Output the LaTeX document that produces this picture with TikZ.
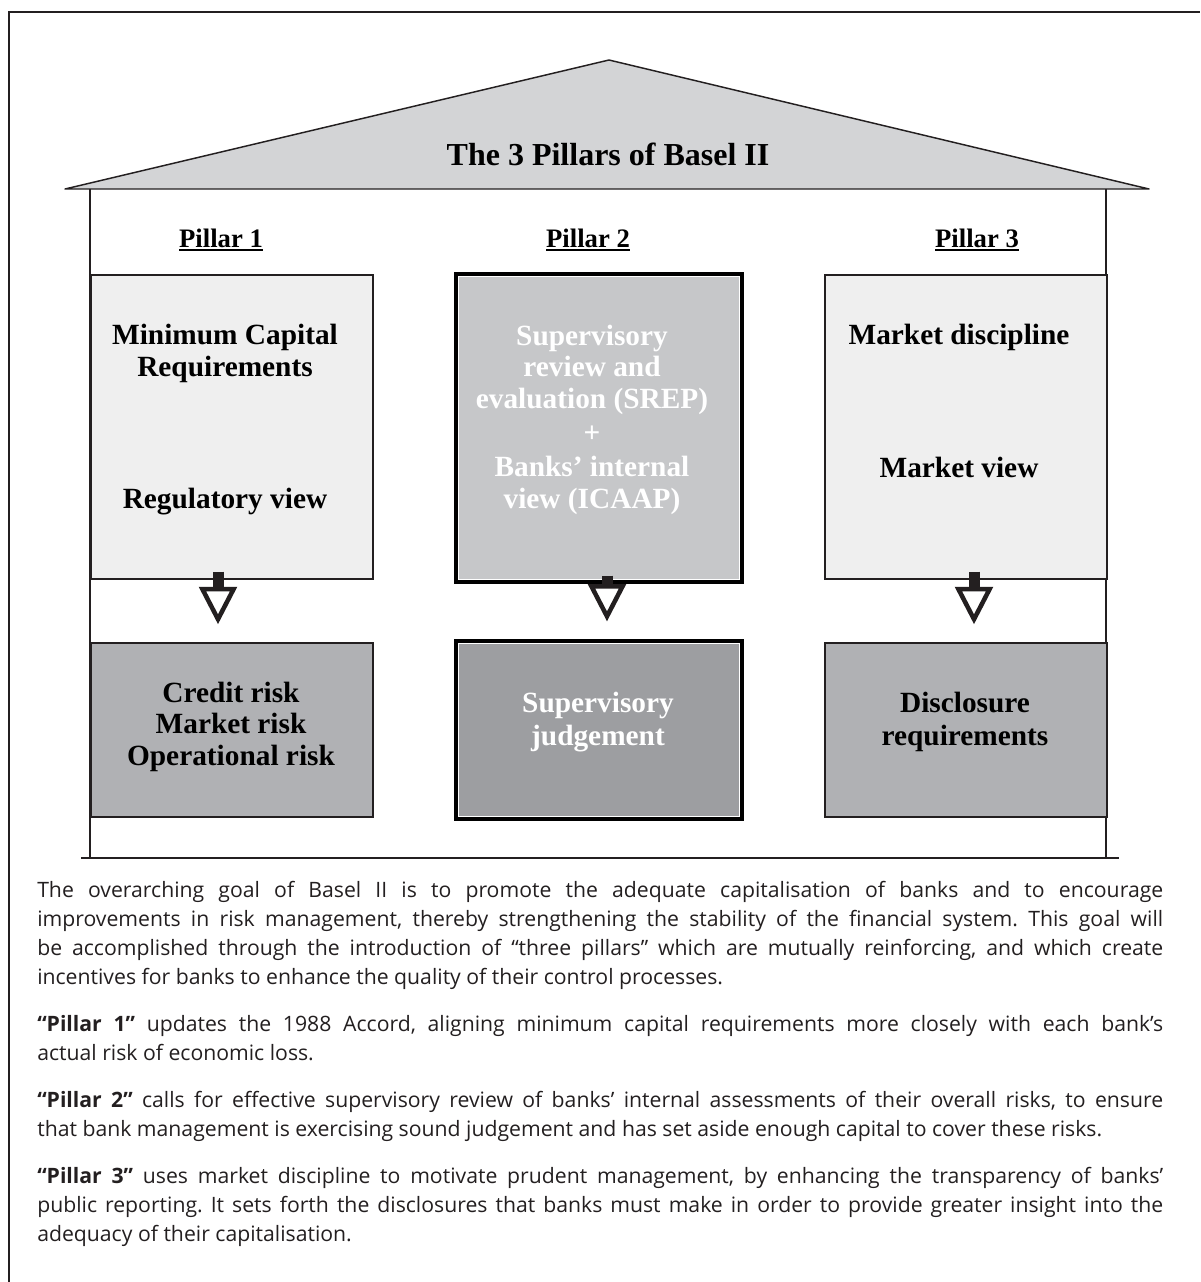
\documentclass[tikz,border=0pt]{standalone}
\usepackage{fontspec}
\setmainfont{Liberation Serif}
\newfontfamily\bodyfont{Open Sans}
\usetikzlibrary{arrows.meta}

\definecolor{roofgray}{HTML}{D3D4D6}
\definecolor{palepillar}{HTML}{EFEFEF}
\definecolor{midpillar}{HTML}{C6C7C9}
\definecolor{riskgray}{HTML}{B0B1B4}
\definecolor{judgegray}{HTML}{9D9EA1}
\definecolor{inkgray}{HTML}{231F20}

\newcommand{\thickul}[1]{\vtop{\hbox{#1}\kern1pt\hrule height 2pt}}

\tikzset{
  pillarbox/.style={draw=inkgray, line width=1.1pt, inner sep=0pt, minimum width=211.5pt, minimum height=228pt},
  basebox/.style={pillarbox, minimum height=130.5pt},
  centrebox/.style={draw=black, line width=2.4pt, minimum width=214.5pt},
  innerline/.style={draw=white, line width=0.7pt, inner sep=0pt},
  boxtext/.style={font=\bfseries\fontsize{22}{23.6}\selectfont, align=center, inner sep=0pt, anchor=base},
  headtext/.style={font=\bfseries\fontsize{20}{24}\selectfont, inner sep=0pt, anchor=base},
  pillararrow/.style={draw=inkgray, line width=8.25pt, shorten <=-6pt, shorten >=13.5pt, -{Triangle[open, length=28pt, width=28pt, line width=3.4pt]}},
  bodytext/.style={font=\bodyfont\fontsize{15.9}{21.75}\selectfont, text=inkgray, text width=844.5pt, align=justify, inner sep=0pt, anchor=north west}
}

\begin{document}
\begin{tikzpicture}[x=0.75pt,y=0.75pt,yscale=-1,xscale=1]
\useasboundingbox (0,0) rectangle (1200,1282);

%Outer frame
\draw [draw=inkgray, line width=0.9pt] (9,1282) -- (9,12) -- (1200,12) ;
%Roof
\draw [draw=inkgray, fill=roofgray, line width=1.1pt, line join=round] (65,189) -- (609,60) -- (1149,189) -- cycle ;
%Walls
\draw [draw=inkgray, line width=1.1pt] (90,189) -- (90,858) ;
\draw [draw=inkgray, line width=1.1pt] (1106,189) -- (1106,858) ;
%Floor
\draw [draw=inkgray, line width=1.6pt] (81,858) -- (1119,858) ;

% Text Node
\node [headtext, font=\bfseries\fontsize{24}{28}\selectfont] (roof) at (608,165) {The 3 Pillars of Basel II};
% Pillar heads
\node [headtext] (head1) at (221,247) {\thickul{Pillar 1}};
\node [headtext] (head2) at (588,247) {\thickul{Pillar 2}};
\node [headtext] (head3) at (977,247) {\thickul{Pillar 3}};

%Upper boxes
\node [pillarbox, fill=palepillar] (reg) at (232,427) {};
\node [pillarbox, centrebox, fill=midpillar, minimum height=231pt] (srep) at (599,428) {};
\node [innerline, minimum width=211.3pt, minimum height=227.8pt] (srepedge) at (srep.center) {};
\node [pillarbox, fill=palepillar] (mkt) at (966,427) {};
%Lower boxes
\node [basebox, fill=riskgray] (risk) at (232,730) {};
\node [basebox, centrebox, fill=judgegray, minimum height=133.5pt] (judge) at (599,730) {};
\node [innerline, minimum width=211.3pt, minimum height=130.3pt] (judgeedge) at (judge.center) {};
\node [basebox, fill=riskgray] (disc) at (966,730) {};

%Arrows
\draw [pillararrow] ([xshift=-10.5pt]reg.south) -- ([xshift=-10.5pt]risk.north) ;
\draw [pillararrow] ([xshift=6pt]srep.south) -- ([xshift=6pt]judge.north) ;
\draw [pillararrow] ([xshift=6pt]mkt.south) -- ([xshift=6pt]disc.north) ;

% Box texts (base = last line)
\node [boxtext] (regtitle) at (225,376) {Minimum Capital\\Requirements};
\node [boxtext] (regview) at (225,508) {Regulatory view};
\node [boxtext, font=\bfseries\fontsize{22}{23.6}\selectfont, text=white] (sreptext) at (592,508) {Supervisory\\review and\\evaluation (SREP)\\[2pt]+\\[2pt]Banks’ internal\\view (ICAAP)};
\node [boxtext] (mkttitle) at (959,344) {Market discipline};
\node [boxtext] (mktview) at (959,477) {Market view};
\node [boxtext] (risktext) at (231,765) {Credit risk\\Market risk\\Operational risk};
\node [boxtext, text=white] (judgetext) at (598,745) {Supervisory\\[1pt]judgement};
\node [boxtext] (disctext) at (965,745) {Disclosure\\[1pt]requirements};

% Body text
\node [bodytext] (goal) at (37,881) {\setlength{\parindent}{0pt}\tolerance=9999\hbadness=10000\frenchspacing
The overarching goal of Basel II is to promote the adequate capitalisation of banks and to encourage\linebreak
improvements in risk management, thereby strengthening the stability of the financial system. This goal will\linebreak
be accomplished through the introduction of “three pillars” which are mutually reinforcing, and which create\linebreak
incentives for banks to enhance the quality of their control processes.\par\vspace{13.5pt}
\textbf{“Pillar 1”} updates the 1988 Accord, aligning minimum capital requirements more closely with each bank’s\linebreak
actual risk of economic loss.\par\vspace{13.5pt}
\textbf{“Pillar 2”} calls for effective supervisory review of banks’ internal assessments of their overall risks, to ensure\linebreak
that bank management is exercising sound judgement and has set aside enough capital to cover these risks.\par\vspace{13.5pt}
\textbf{“Pillar 3”} uses market discipline to motivate prudent management, by enhancing the transparency of banks’\linebreak
public reporting. It sets forth the disclosures that banks must make in order to provide greater insight into the\linebreak
adequacy of their capitalisation.\par};

\end{tikzpicture}
\end{document}
